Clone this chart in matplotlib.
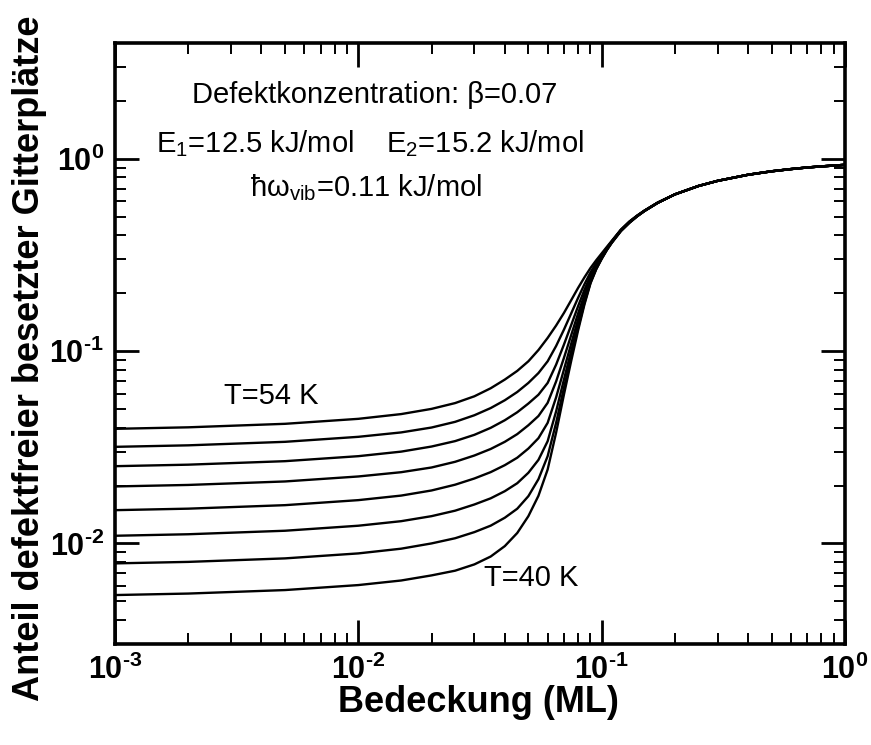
import matplotlib
matplotlib.use("Agg")
import matplotlib.pyplot as plt
from matplotlib.ticker import NullFormatter, LogLocator

plt.rcParams["font.family"] = ["Liberation Sans", "DejaVu Sans"]
plt.rcParams["mathtext.fontset"] = "custom"
plt.rcParams["mathtext.rm"] = "Liberation Sans:bold"
plt.rcParams["mathtext.it"] = "Liberation Sans:italic"
plt.rcParams["mathtext.bf"] = "Liberation Sans:bold"

# Coverage grid (ML)
coverage = [0.001, 0.002, 0.005, 0.01, 0.015, 0.02, 0.025, 0.03, 0.035, 0.04,
            0.045, 0.05, 0.055, 0.06, 0.065, 0.07, 0.075, 0.08, 0.085, 0.09,
            0.095, 0.1, 0.105, 0.11, 0.12, 0.13, 0.14, 0.15, 0.17, 0.2,
            0.25, 0.3, 0.4, 0.5, 0.6, 0.7, 0.8, 1.0]

# Above ~0.2 ML all temperatures share the same values
tail_common = [0.653, 0.722, 0.768, 0.826, 0.861, 0.884, 0.901, 0.913, 0.930]

# Fraction of occupied sites that are defect-free, per temperature
frac_54K = [0.03943, 0.04015, 0.04187, 0.04444, 0.04704, 0.05007, 0.05367, 0.05822,
            0.06409, 0.07110, 0.07889, 0.08851, 0.1013, 0.1171, 0.1358, 0.1579,
            0.1841, 0.2129, 0.2418, 0.2704, 0.2967, 0.322, 0.3479, 0.374, 0.428,
            0.472, 0.507, 0.538, 0.592] + tail_common
frac_52K = [0.03178, 0.03236, 0.03375, 0.03583, 0.03777, 0.04005, 0.04287, 0.04640,
            0.05056, 0.05551, 0.06128, 0.06832, 0.07688, 0.08851, 0.1063, 0.1293,
            0.1572, 0.1889, 0.2226, 0.2566, 0.2872, 0.3160, 0.3441, 0.372, 0.427,
            0.470, 0.506, 0.537, 0.591] + tail_common
frac_50K = [0.02521, 0.02567, 0.02677, 0.02842, 0.03001, 0.03190, 0.03404, 0.03670,
            0.03990, 0.04370, 0.04808, 0.05338, 0.05933, 0.06832, 0.08502, 0.1081,
            0.1368, 0.1709, 0.2083, 0.2467, 0.2809, 0.3123, 0.3419, 0.370, 0.426,
            0.469, 0.505, 0.537, 0.591] + tail_common
frac_48K = [0.01978, 0.02014, 0.02100, 0.02229, 0.02346, 0.02482, 0.02657, 0.02865,
            0.03098, 0.03375, 0.03701, 0.04116, 0.04597, 0.05383, 0.06953, 0.09220,
            0.1212, 0.1566, 0.1969, 0.2389, 0.2755, 0.3086, 0.3398, 0.369, 0.425,
            0.468, 0.504, 0.536, 0.591] + tail_common
frac_46K = [0.01489, 0.01516, 0.01581, 0.01679, 0.01773, 0.01885, 0.02020, 0.02176,
            0.02348, 0.02552, 0.02790, 0.03114, 0.03525, 0.04236, 0.05745, 0.08014,
            0.1093, 0.1457, 0.1883, 0.2332, 0.2717, 0.3060, 0.3381, 0.368, 0.424,
            0.467, 0.504, 0.536, 0.590] + tail_common
frac_44K = [0.01096, 0.01116, 0.01164, 0.01236, 0.01305, 0.01386, 0.01480, 0.01594,
            0.01716, 0.01869, 0.02056, 0.02330, 0.02719, 0.03400, 0.04856, 0.07110,
            0.1004, 0.1373, 0.1820, 0.2296, 0.2691, 0.3034, 0.3364, 0.367, 0.423,
            0.466, 0.503, 0.536, 0.590] + tail_common
frac_42K = [0.007873, 0.008016, 0.008360, 0.008873, 0.009389, 0.01000, 0.01064, 0.01145,
            0.01237, 0.01360, 0.01515, 0.01761, 0.02158, 0.02842, 0.04234, 0.06437,
            0.09385, 0.1319, 0.1779, 0.2269, 0.2674, 0.3023, 0.3356, 0.366, 0.422,
            0.465, 0.503, 0.535, 0.590] + tail_common
frac_40K = [0.005389, 0.005486, 0.005721, 0.006073, 0.006415, 0.006819, 0.007215, 0.007780,
            0.008548, 0.009683, 0.01133, 0.01386, 0.01769, 0.02423, 0.03765, 0.05943,
            0.08904, 0.1278, 0.1748, 0.2250, 0.2662, 0.3013, 0.3347, 0.365, 0.420,
            0.464, 0.502, 0.535, 0.590] + tail_common

series = [frac_54K, frac_52K, frac_50K, frac_48K, frac_46K, frac_44K, frac_42K, frac_40K]

x_ticks = [1e-3, 1e-2, 1e-1, 1e0]
x_tick_labels = [r"$\mathbf{10^{\text{-}3}}$", r"$\mathbf{10^{\text{-}2}}$",
                 r"$\mathbf{10^{\text{-}1}}$", r"$\mathbf{10^{0}}$"]
y_ticks = [1e-2, 1e-1, 1e0]
y_tick_labels = [r"$\mathbf{10^{\text{-}2}}$", r"$\mathbf{10^{\text{-}1}}$", r"$\mathbf{10^{0}}$"]

fig = plt.figure(figsize=(8.71, 7.45), dpi=100)
ax = fig.add_axes([0.1320, 0.1356, 0.8381, 0.8067])

for ys in series:
    ax.plot(coverage, ys, color="black", lw=1.7, solid_joinstyle="round",
            solid_capstyle="round")

ax.set_xscale("log")
ax.set_yscale("log")
ax.set_xlim(1e-3, 1e0)
ax.set_ylim(3e-3, 4.0)

ax.set_xticks(x_ticks)
ax.set_xticklabels(x_tick_labels)
ax.set_yticks(y_ticks)
ax.set_yticklabels(y_tick_labels)
ax.xaxis.set_minor_locator(LogLocator(base=10, subs=range(2, 10), numticks=20))
ax.yaxis.set_minor_locator(LogLocator(base=10, subs=range(2, 10), numticks=20))
ax.xaxis.set_minor_formatter(NullFormatter())
ax.yaxis.set_minor_formatter(NullFormatter())

ax.tick_params(which="major", direction="in", length=17, width=2.0,
               top=True, right=True, labelsize=22)
ax.tick_params(axis="x", which="major", pad=8)
ax.tick_params(axis="y", which="major", pad=8)
ax.tick_params(which="minor", direction="in", length=8, width=1.4,
               top=True, right=True)
for sp in ax.spines.values():
    sp.set_linewidth(2.6)

fig.text(0.5488, 0.057, "Bedeckung (ML)", fontsize=26, fontweight="bold",
         ha="center", va="center")
fig.text(0.0344, 0.5188, "Anteil defektfreier besetzter Gitterplätze", fontsize=26,
         fontweight="bold", rotation=90, ha="center", va="center")

# Annotation texts use the regular face, including their subscripts
tkw = dict(transform=ax.transAxes, fontsize=21, ha="center", va="baseline")
ax.text(0.3555, (644 - 102.7) / 601, "Defektkonzentration: β=0.07", **tkw)
ax.text(0.1918, (644 - 152.7) / 601, "E$_{\\mathregular{1}}$=12.5 kJ/mol", **tkw)
ax.text(0.5068, (644 - 152.7) / 601, "E$_{\\mathregular{2}}$=15.2 kJ/mol", **tkw)
ax.text(0.3445, (644 - 196.7) / 601, "ħω$_{\\mathregular{vib}}$=0.11 kJ/mol", **tkw)
ax.text(0.2137, (644 - 404) / 601, "T=54 K", **tkw)
ax.text(0.5699, (644 - 585.7) / 601, "T=40 K", **tkw)

fig.savefig("out.png", dpi=100)
